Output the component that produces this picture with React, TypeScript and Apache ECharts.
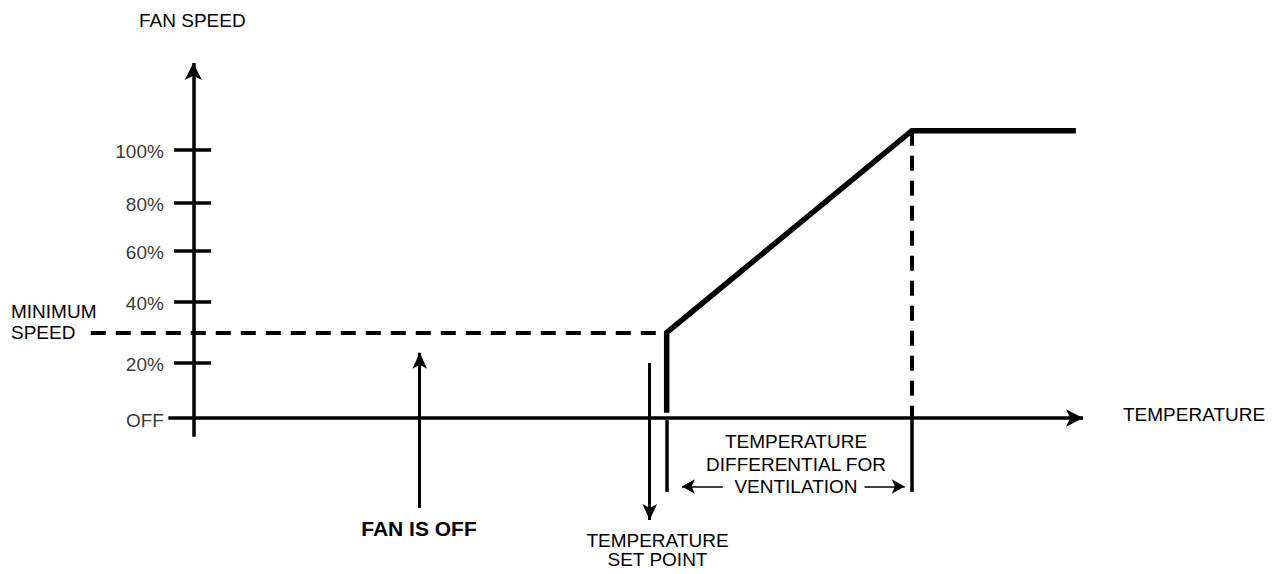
import React, { useEffect, useRef } from 'react';
import * as echarts from 'echarts';

// ---- data (diagram units: temperature on x, fan speed % on y) ----
const yTickLabels = ['OFF', '20%', '40%', '60%', '80%', '100%'];
const yTickLevels = [0, 20.6, 43.3, 62.2, 80.2, 100];
const fanCurveTemp = [53.1, 53.1, 80.6, 99.0];
const fanCurveSpeed = [2.0, 31.8, 107.0, 107.0];
const minimumSpeed = 31.8;
const minimumSpeedFrom = -11.5;
const setPoint = 53.1;
const differentialEnd = 80.6;
const tempAxisRange = [-2.8, 99.8];
const speedAxisRange = [-7.0, 132.2];
const markerBottom = -27.5;
const fanOffArrow = { x: 25.4, from: -33.5, to: 24.3 };
const setPointArrow = { x: 51.2, from: 20.5, to: -38 };
const differentialArrowLevel = -25.5;
const differentialLeft = [59.4, 54.8];
const differentialRight = [75.3, 79.8];

// ---- layout ----
const X_MIN = -20, X_MAX = 100, Y_MIN = -50, Y_MAX = 140;
const GRID_LEFT = 15, GRID_WIDTH = 1069.8, GRID_TOP = 42.1, GRID_HEIGHT = 510.15;
const FONT = '"Liberation Sans", Arial, sans-serif';

function arrowSeries(from: number[], tip: number[], size: number[], width: number) {
  return {
    type: 'lines',
    coordinateSystem: 'cartesian2d',
    symbol: ['none', 'arrow'],
    symbolSize: [0, size],
    lineStyle: { color: '#000', width, opacity: 1, cap: 'butt' },
    data: [{ coords: [from, tip] }],
    z: 5,
  };
}

export default function App() {
  const ref = useRef<HTMLDivElement>(null);
  useEffect(() => {
    if (!ref.current) return;
    const chart = echarts.init(ref.current, null, { renderer: 'svg' });
    const curveCoords = fanCurveTemp.map((t, i) => [t, fanCurveSpeed[i]]);
    const tickLines = yTickLevels.slice(1).map((l) => ({ coords: [[-2.15, l], [2.0, l]] }));
    const option = {
      animation: false,
      backgroundColor: '#fff',
      grid: { left: GRID_LEFT, top: GRID_TOP, width: GRID_WIDTH, height: GRID_HEIGHT },
      xAxis: { type: 'value', min: X_MIN, max: X_MAX, show: false },
      yAxis: { type: 'value', min: Y_MIN, max: Y_MAX, show: false },
      series: [
        // dashed guides
        {
          type: 'lines',
          coordinateSystem: 'cartesian2d',
          lineStyle: { color: '#000', width: 4, opacity: 1, type: [15, 10] },
          data: [
            { coords: [[minimumSpeedFrom, minimumSpeed], [setPoint, minimumSpeed]] },
            { coords: [[differentialEnd, fanCurveSpeed[2]], [differentialEnd, 0]] },
          ],
        },
        // solid boundary markers below the axis + ticks
        {
          type: 'lines',
          coordinateSystem: 'cartesian2d',
          lineStyle: { color: '#000', width: 3.5, opacity: 1 },
          data: [
            { coords: [[setPoint, -0.8], [setPoint, markerBottom]] },
            { coords: [[differentialEnd, 0], [differentialEnd, markerBottom]] },
            ...tickLines,
          ],
        },
        // fan speed curve
        {
          type: 'lines',
          coordinateSystem: 'cartesian2d',
          polyline: true,
          lineStyle: { color: '#000', width: 5.5, opacity: 1, join: 'miter', cap: 'butt' },
          data: [{ coords: curveCoords }],
          z: 4,
        },
        // axes
        arrowSeries([tempAxisRange[0], 0], [tempAxisRange[1], 0], [13, 17], 3.5),
        arrowSeries([0, speedAxisRange[0]], [0, speedAxisRange[1]], [13, 17], 3.5),
        // annotation arrows
        arrowSeries([fanOffArrow.x, fanOffArrow.from], [fanOffArrow.x, fanOffArrow.to], [11, 16], 3),
        arrowSeries([setPointArrow.x, setPointArrow.from], [setPointArrow.x, setPointArrow.to], [11, 16], 3),
        arrowSeries([differentialLeft[0], differentialArrowLevel], [differentialLeft[1], differentialArrowLevel], [11, 13], 1.5),
        arrowSeries([differentialRight[0], differentialArrowLevel], [differentialRight[1], differentialArrowLevel], [11, 13], 1.5),
        // tick labels
        {
          type: 'scatter',
          symbolSize: 0,
          data: yTickLevels.map((l, i) => ({ value: [-3.3, l], name: yTickLabels[i] })),
          label: {
            show: true,
            position: 'left',
            distance: 0,
            offset: [0, 2],
            formatter: (p: any) => p.name,
            color: '#000',
            fontSize: 19,
            fontFamily: FONT,
          },
          silent: true,
        },
      ],
      graphic: [
        { type: 'text', style: { text: 'FAN SPEED', x: 139, y: 20.5, font: `19px ${FONT}`, fill: '#000', textAlign: 'left', textVerticalAlign: 'middle' } },
        { type: 'text', style: { text: 'TEMPERATURE', x: 1123, y: 414.5, font: `19px ${FONT}`, fill: '#000', textAlign: 'left', textVerticalAlign: 'middle' } },
        { type: 'text', style: { text: 'MINIMUM\nSPEED', x: 11, y: 322, font: `19px ${FONT}`, lineHeight: 21, fill: '#000', textAlign: 'left', textVerticalAlign: 'middle' } },
        { type: 'text', style: { text: 'TEMPERATURE\nDIFFERENTIAL FOR\nVENTILATION', x: 796, y: 464, font: `19px ${FONT}`, lineHeight: 22.5, fill: '#000', textAlign: 'center', textVerticalAlign: 'middle' } },
        { type: 'text', style: { text: 'TEMPERATURE\nSET POINT', x: 657.5, y: 550, font: `19px ${FONT}`, lineHeight: 18.5, fill: '#000', textAlign: 'center', textVerticalAlign: 'middle' } },
        { type: 'text', style: { text: 'FAN IS OFF', x: 419, y: 528.5, font: `bold 21px ${FONT}`, fill: '#000', textAlign: 'center', textVerticalAlign: 'middle' } },
      ],
    };
    chart.setOption(option as any);
    return () => chart.dispose();
  }, []);
  return (
    <div
      ref={ref}
      style={{ position: 'absolute', left: 0, top: 0, width: 1279, height: 574 }}
    />
  );
}
